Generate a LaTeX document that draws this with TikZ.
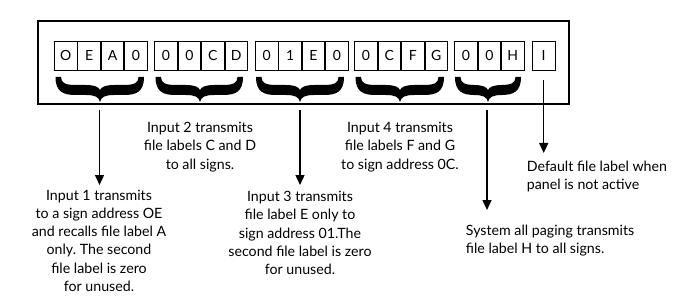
\documentclass[tikz,border=0pt]{standalone}
\usepackage{fontspec}
\setmainfont{Lato}
\usetikzlibrary{arrows.meta}
\frenchspacing
\newcommand\mybrace[3]{%
 \fill (#1,77) .. controls (#1,92) and ({#1+8},95) .. ({#1+20},95) -- ({#2-14},95) .. controls ({#2-5},95) and ({#2-1},97) .. (#2,102) .. controls ({#2+1},97) and ({#2+5},95) .. ({#2+14},95) -- ({#3-20},95) .. controls ({#3-8},95) and (#3,92) .. (#3,77) -- ({#3-5.5},77) .. controls ({#3-5.5},83) and ({#3-10},85) .. ({#3-20},85) -- ({#2+14},85) .. controls ({#2+6},85) and ({#2+1},87) .. (#2,90) .. controls ({#2-1},87) and ({#2-6},85) .. ({#2-14},85) -- ({#1+20},85) .. controls ({#1+10},85) and ({#1+5.5},83) .. ({#1+5.5},77) -- cycle;}
\begin{document}
\begin{tikzpicture}[x=1pt,y=-1pt,
  cell/.style={draw, line width=0.8pt, minimum width=22.6pt, minimum height=29pt, inner sep=0pt, font=\fontsize{14}{14}\selectfont, anchor=west},
  frame/.style={draw, line width=1.2pt},
  arr/.style={line width=1.4pt, -{Triangle[length=10pt,width=9pt]}},
  lab/.style={inner sep=0pt, font=\fontsize{14.2}{18.3}\selectfont\frenchspacing, align=center, anchor=north},
  labl/.style={inner sep=0pt, font=\fontsize{14.2}{18.3}\selectfont\frenchspacing, align=left, anchor=north west},
]
\useasboundingbox (0,0) rectangle (695,299);
\draw[frame] (38,21) rectangle (569,104);
% group 1
\node[cell] (c11) at (54,55.5) {O};
\node[cell] (c12) at (c11.east) {E};
\node[cell] (c13) at (c12.east) {A};
\node[cell] (c14) at (c13.east) {0};
% group 2
\node[cell] (c21) at (154.3,55.5) {0};
\node[cell] (c22) at (c21.east) {0};
\node[cell] (c23) at (c22.east) {C};
\node[cell] (c24) at (c23.east) {D};
% group 3
\node[cell] (c31) at (255,55.5) {0};
\node[cell] (c32) at (c31.east) {1};
\node[cell] (c33) at (c32.east) {E};
\node[cell] (c34) at (c33.east) {0};
% group 4
\node[cell] (c41) at (354.3,55.5) {0};
\node[cell] (c42) at (c41.east) {C};
\node[cell] (c43) at (c42.east) {F};
\node[cell] (c44) at (c43.east) {G};
% group 5
\node[cell] (c51) at (454.3,55.5) {0};
\node[cell] (c52) at (c51.east) {0};
\node[cell] (c53) at (c52.east) {H};
% group 6
\node[cell] (c61) at (532,55.5) {I};
% braces
\mybrace{55.5}{100}{144}
\mybrace{155.5}{200}{243}
\mybrace{256}{300}{344}
\mybrace{355.5}{400}{444}
\mybrace{455}{488}{521}
% texts
\node[lab] (t1) at (99,189.5) {Input 1 transmits\\to a sign address OE\\and recalls file label A\\only. The second\\file label is zero\\for unused.};
\node[lab] (t2) at (200,122) {Input 2 transmits\\file labels C and D\\to all signs.};
\node[lab] (t3) at (300,191) {Input 3 transmits\\file label E only to\\sign address 01.The\\second file label is zero\\for unused.};
\node[lab] (t4) at (400,122) {Input 4 transmits\\file labels F and G\\to sign address 0C.};
\node[labl] (t5) at (465.7,224.5) {System all paging transmits\\file label H to all signs.};
\node[labl] (t6) at (526.7,161) {Default file label when\\panel is not active};
% arrows
\coordinate (a1) at (99.5,110);
\coordinate (a3) at (300,110);
\coordinate (a5) at (487,110);
\coordinate (a6) at (c61.center |- 0,80);
\draw[arr, shorten >=4.5pt] (a1) -- (a1 |- t1.north);
\draw[arr, shorten >=6pt] (a3) -- (a3 |- t3.north);
\draw[arr, shorten >=14.5pt] (a5) -- (a5 |- t5.north);
\draw[arr, shorten >=8pt] (a6) -- (a6 |- t6.north);
\end{tikzpicture}
\end{document}
